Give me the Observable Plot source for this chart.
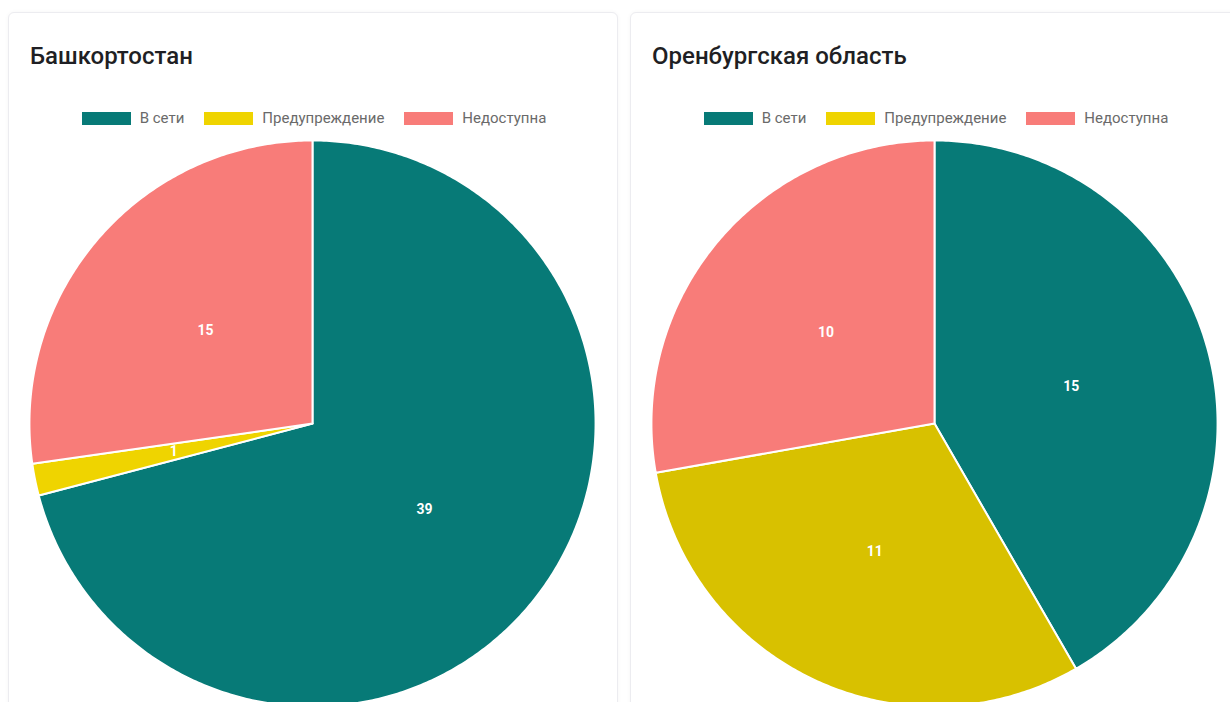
<!DOCTYPE html>
<html>
<head>
<meta charset="utf-8">
<script src="https://cdn.jsdelivr.net/npm/d3@7"></script>
<script src="https://cdn.jsdelivr.net/npm/@observablehq/plot@0.6"></script>
<style>
  html, body { margin: 0; padding: 0; background: #ffffff; width: 1230px; height: 702px; overflow: hidden; font-family: Roboto, "Noto Sans", sans-serif; }
  .card { position: absolute; top: 12px; width: 608px; height: 720px; background: #fff; border: 1px solid #ececf0; border-radius: 6px; box-shadow: 0 0 4px rgba(0,0,0,0.04); }
  .title { position: absolute; left: 21px; top: 29px; font-size: 24px; font-weight: 500; color: #1f1f24; white-space: nowrap; }
  .legend { position: absolute; left: 0; width: 610px; top: 96px; display: flex; justify-content: center; align-items: center; font-size: 15px; color: #6a6a6a; }
  .legend .item { display: flex; align-items: center; margin: 0 10px; }
  .legend .sw { width: 49px; height: 13px; margin-right: 9px; }
  .pie { position: absolute; left: 0; top: 127px; }
</style>
</head>
<body>
<div id="root"></div>
<script>
// ---- data ----
const categories = ["В сети", "Предупреждение", "Недоступна"];
const regions = ["Башкортостан", "Оренбургская область"];
const valuesBashkortostan = [39, 1, 15];
const valuesOrenburg = [15, 11, 10];

// ---- styles ----
const legendColors = ["#077a77", "#efd400", "#f87c79"];
const sliceColors = [
  ["#077a77", "#efd400", "#f87c79"],
  ["#077a77", "#d8c100", "#f87c79"]
];
const cardLefts = [8, 630];

const allValues = [valuesBashkortostan, valuesOrenburg];
const root = document.getElementById("root");

regions.forEach((region, ri) => {
  const values = allValues[ri];
  const card = document.createElement("div");
  card.className = "card";
  card.style.left = cardLefts[ri] + "px";

  const t = document.createElement("div");
  t.className = "title";
  t.textContent = region;
  card.appendChild(t);

  const lg = document.createElement("div");
  lg.className = "legend";
  categories.forEach((c, i) => {
    const it = document.createElement("div");
    it.className = "item";
    const sw = document.createElement("div");
    sw.className = "sw";
    sw.style.background = legendColors[i];
    const lb = document.createElement("span");
    lb.textContent = c;
    it.appendChild(sw); it.appendChild(lb);
    lg.appendChild(it);
  });
  card.appendChild(lg);

  // compute slice polygons from values (clockwise from 12 o'clock)
  const table = categories.map((c, i) => ({category: c, value: values[i]}));
  const arcs = d3.pie().sort(null).value(d => d.value)(table);
  const pts = [];
  const labels = [];
  arcs.forEach(a => {
    const cat = a.data.category;
    pts.push({category: cat, x: 0, y: 0});
    const n = Math.max(2, Math.ceil((a.endAngle - a.startAngle) / 0.01));
    for (let k = 0; k <= n; k++) {
      const ang = a.startAngle + (a.endAngle - a.startAngle) * k / n;
      pts.push({category: cat, x: Math.sin(ang), y: Math.cos(ang)});
    }
    pts.push({category: cat, x: 0, y: 0});
    const mid = (a.startAngle + a.endAngle) / 2;
    labels.push({category: cat, value: a.data.value, x: 0.5 * Math.sin(mid), y: 0.5 * Math.cos(mid)});
  });

  const R = 284;
  const W = 610;
  const plot = Plot.plot({
    width: W,
    height: 2 * R,
    marginLeft: W / 2 - R - 1,
    marginRight: W / 2 - R + 1,
    marginTop: 0,
    marginBottom: 0,
    x: {domain: [-1, 1], axis: null},
    y: {domain: [-1, 1], axis: null},
    color: {domain: categories, range: sliceColors[ri]},
    style: {background: "transparent", overflow: "visible"},
    marks: [
      Plot.line(pts, {x: "x", y: "y", z: "category", fill: "category", stroke: "white", strokeWidth: 2, curve: "linear-closed", strokeLinejoin: "round"}),
      Plot.text(labels, {x: "x", y: "y", text: d => String(d.value), fill: "white", fontSize: 14, fontWeight: "bold", fontFamily: "Roboto, sans-serif"})
    ]
  });
  plot.classList.add("pie");
  card.appendChild(plot);
  root.appendChild(card);
});
</script>
</body>
</html>
